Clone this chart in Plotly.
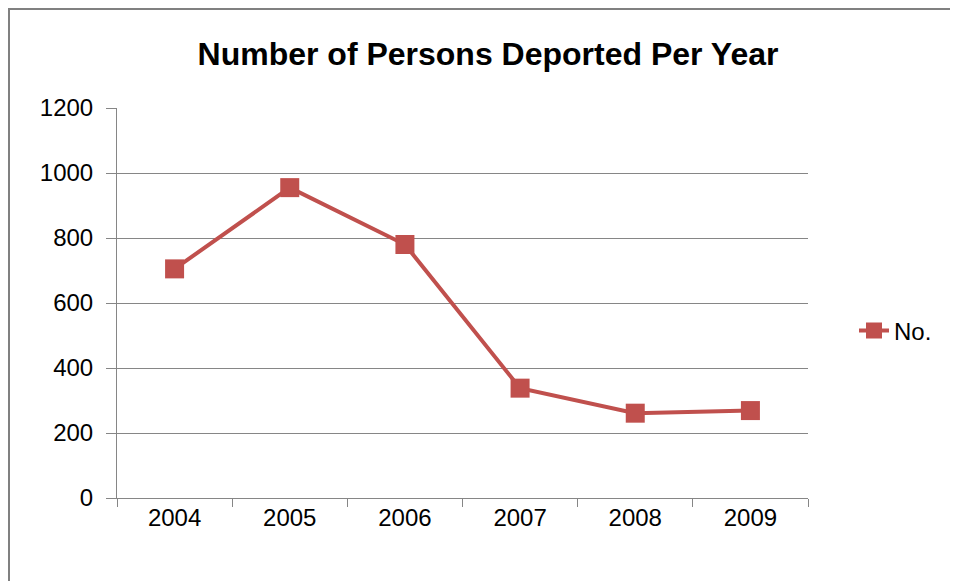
import plotly.graph_objects as go

years = ["2004", "2005", "2006", "2007", "2008", "2009"]
deported = [705, 955, 780, 338, 261, 269]
y_ticks = [0, 200, 400, 600, 800, 1000, 1200]

# page body adds an 8px offset; figure coords = screen coords - 8
W, H = 950, 573
L, R, T, B = 109, 150, 100, 83
pw, ph = W - L - R, H - T - B

red = "#C0504D"
grid = "#868686"
font = "Liberation Sans"


def px(fx):
    return (fx - L) / pw


def py(fy):
    return (H - B - fy) / ph


fig = go.Figure()
fig.add_trace(go.Scatter(
    x=years, y=deported, name="No.", mode="lines+markers",
    line=dict(color=red, width=4),
    marker=dict(symbol="square", size=19, color=red),
))

fig.update_layout(
    width=W, height=H,
    margin=dict(l=L, r=R, t=T, b=B),
    paper_bgcolor="white", plot_bgcolor="white",
    title=dict(text="Number of Persons Deported Per Year",
               x=480 / W, xanchor="center", y=1 - 46 / H, yanchor="middle",
               font=dict(family=font, size=32, color="black", weight="bold")),
    xaxis=dict(type="category", range=[-0.5, 5.5], showgrid=False,
               showline=True, linecolor=grid, linewidth=1,
               ticks="outside", ticklen=8, tickcolor=grid, tickson="boundaries",
               tickfont=dict(family=font, size=24, color="black"),
               ticklabelstandoff=-2,
               fixedrange=True),
    yaxis=dict(range=[0, 1200], tickvals=y_ticks, showgrid=True, gridcolor=grid,
               gridwidth=1, showline=True, linecolor=grid, linewidth=1,
               ticks="outside", ticklen=10, tickcolor=grid, zeroline=False,
               tickfont=dict(family=font, size=24, color="black"),
               ticklabelstandoff=8),
    showlegend=True,
    legend=dict(x=px(846), xanchor="left", y=py(323), yanchor="middle",
                font=dict(family=font, size=24, color="black"),
                bgcolor="rgba(0,0,0,0)"),
    shapes=[
        dict(type="line", xref="paper", yref="paper",
             x0=px(0), x1=px(W), y0=py(1), y1=py(1),
             line=dict(color="#808080", width=2), layer="below"),
        dict(type="line", xref="paper", yref="paper",
             x0=px(1), x1=px(1), y0=py(0), y1=py(H),
             line=dict(color="#808080", width=2), layer="below"),
    ],
)

fig.write_html("out.html")
